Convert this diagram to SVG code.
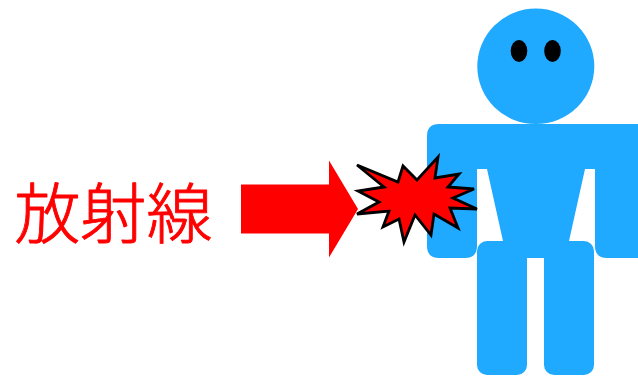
<svg xmlns="http://www.w3.org/2000/svg" width="638" height="376" viewBox="0 0 638 376">
<style>
.b{fill:#1fa9ff}
.e{fill:#000}
.r{fill:#f00}
.t{font-family:"Noto Sans CJK JP",sans-serif;font-size:66px;font-weight:300;fill:#f00;stroke:#f00;stroke-width:.9px;stroke-linejoin:round}
</style>
<rect width="638" height="376" fill="#fff"/>
<g id="person">
<ellipse class="b" cx="535.800" cy="66.300" rx="58.500" ry="57.800"/>
<ellipse class="e" cx="519" cy="51" rx="8.300" ry="11"/>
<ellipse class="e" cx="552.500" cy="51" rx="8.300" ry="11"/>
<path class="b" d="M439 124H638V258H607Q595 258 595 246V169H585L569 241H503L487 169H477V246Q477 258 465 258H439Q427 258 427 246V136Q427 124 439 124Z"/>
<rect class="b" x="503" y="200" width="66" height="58"/>
<rect class="b" x="477" y="241" width="50" height="134" rx="10"/>
<rect class="b" x="544" y="241" width="50" height="134" rx="10"/>
</g>
<g id="arrow"><path class="r" d="M241 184.500H329V160.500L358 209L329 257.500V233.500H241Z"/></g>
<g id="burst"><path fill="#f00" stroke="#000" stroke-width="2.800" d="M357 165L398 182L403 166L417 180L438 157L435 178L459 174L448 187L474 189L453 198L477 209L450 208L458 228L434 214L431 235L415 215L404 242L399 219L383 227L389 211L357 214L379 202L358 191L384 187Z"/></g>
<g id="label"><text class="t" x="14.500" y="237.500">放射線</text></g>
</svg>
